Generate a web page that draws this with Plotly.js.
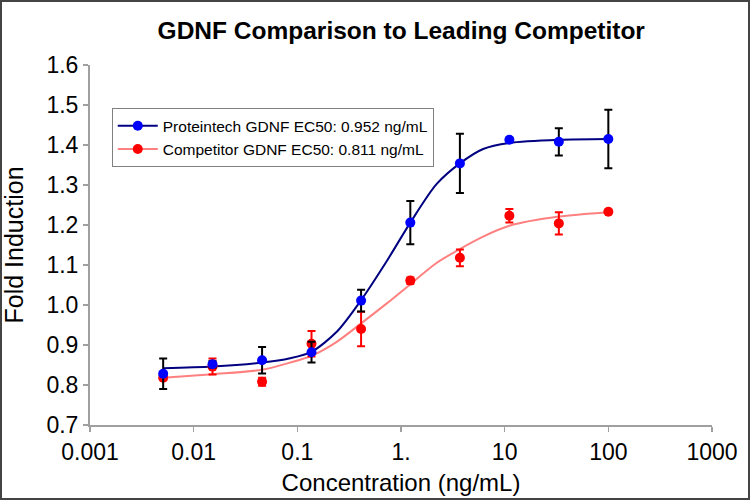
<!DOCTYPE html>
<html>
<head>
<meta charset="utf-8">
<script src="https://cdn.plot.ly/plotly-3.0.1.min.js"></script>
<style>
  html, body { margin: 0; padding: 0; background: #fff; }
  #wrap { position: relative; width: 750px; height: 500px; }
  #chart { width: 750px; height: 500px; }
  #frame { position: absolute; left: 0; top: 0; width: 750px; height: 500px; box-sizing: border-box; border: 2px solid #444; pointer-events: none; }
</style>
</head>
<body>
<div id="wrap"><div id="chart"></div><div id="frame"></div></div>
<script>
// Concentrations (ng/mL), 3-fold dilution series
const conc = [0.00508, 0.0152, 0.0457, 0.137, 0.412, 1.23, 3.70, 11.1, 33.3, 100];

// Proteintech GDNF (mean fold induction and error)
const proteintech = [0.828, 0.852, 0.862, 0.882, 1.011, 1.206, 1.354, 1.413, 1.408, 1.415];
const proteintechErr = [0.038, 0.008, 0.033, 0.026, 0.027, 0.054, 0.074, 0.003, 0.034, 0.073];

// Competitor GDNF
const competitor = [0.818, 0.846, 0.808, 0.903, 0.940, 1.061, 1.118, 1.223, 1.204, 1.233];
const competitorErr = [0.004, 0.020, 0.010, 0.032, 0.043, 0.008, 0.021, 0.017, 0.028, 0];

// Fitted curves
const curveX = [0.00508, 0.0152, 0.0457, 0.085, 0.137, 0.24, 0.412, 0.73, 1.23, 2.2, 3.7, 6.2, 11.1, 33.3, 100];
const proteintechCurve = [0.842, 0.846, 0.856, 0.867, 0.883, 0.933, 1.012, 1.110, 1.206, 1.302, 1.354, 1.390, 1.405, 1.413, 1.415];
const competitorCurve = [0.818, 0.827, 0.838, 0.856, 0.873, 0.908, 0.954, 1.004, 1.052, 1.105, 1.140, 1.171, 1.198, 1.221, 1.232];

// Labels
const xTickVals = [0.001, 0.01, 0.1, 1, 10, 100, 1000];
const xTickText = ['0.001', '0.01', '0.1', '1.', '10', '100', '1000'];
const legendNames = ['Proteintech GDNF EC50: 0.952 ng/mL', 'Competitor GDNF EC50: 0.811 ng/mL'];
const chartTitle = 'GDNF Comparison to Leading Competitor';
const xTitle = 'Concentration (ng/mL)';
const yTitle = 'Fold Induction';

const BLUE = '#0000ff', NAVY = '#000080', RED = '#ff0000', PINK = '#ff8080';
const FONT = 'Arial, "Liberation Sans", sans-serif';

const traces = [
  // legend entries
  { x: [null], y: [null], type: 'scatter', mode: 'lines+markers', name: legendNames[0],
    line: { color: NAVY, width: 2 }, marker: { color: BLUE, size: 10 }, showlegend: true },
  { x: [null], y: [null], type: 'scatter', mode: 'lines+markers', name: legendNames[1],
    line: { color: PINK, width: 2 }, marker: { color: RED, size: 10 }, showlegend: true },
  // curves
  { x: curveX, y: competitorCurve, type: 'scatter', mode: 'lines', showlegend: false,
    line: { color: PINK, width: 2, shape: 'spline', smoothing: 0.8 }, hoverinfo: 'skip' },
  { x: curveX, y: proteintechCurve, type: 'scatter', mode: 'lines', showlegend: false,
    line: { color: NAVY, width: 2, shape: 'spline', smoothing: 0.8 }, hoverinfo: 'skip' },
  // data
  { x: conc, y: competitor, type: 'scatter', mode: 'markers', showlegend: false,
    marker: { color: RED, size: 10 },
    error_y: { type: 'data', array: competitorErr, visible: true, color: RED, thickness: 2, width: 4 } },
  { x: conc, y: proteintech, type: 'scatter', mode: 'markers', showlegend: false,
    marker: { color: BLUE, size: 10 },
    error_y: { type: 'data', array: proteintechErr, visible: true, color: '#000000', thickness: 2, width: 4 } }
];

const axisCommon = {
  showgrid: false, zeroline: false, showline: true, linecolor: '#a0a0a0', linewidth: 2,
  ticks: 'outside', ticklen: 5, tickwidth: 1.5, tickcolor: '#a0a0a0',
  tickfont: { family: FONT, size: 23, color: '#000' }
};

const layout = {
  width: 750, height: 500,
  margin: { l: 90, r: 38, t: 65, b: 75 },
  paper_bgcolor: '#fff', plot_bgcolor: '#fff',
  title: { text: chartTitle, font: { family: FONT, size: 24.5, color: '#000', weight: 'bold' },
           x: 0.535, xanchor: 'center', y: 0.94, yanchor: 'middle' },
  xaxis: Object.assign({}, axisCommon, {
    type: 'log', range: [-3, 3], tickmode: 'array', tickvals: xTickVals, ticktext: xTickText,
    title: { text: xTitle, font: { family: FONT, size: 24, color: '#000' }, standoff: 11 }
  }),
  yaxis: Object.assign({}, axisCommon, {
    range: [0.7, 1.6], tick0: 0.7, dtick: 0.1, tickformat: '.1f',
    title: { text: yTitle, font: { family: FONT, size: 25, color: '#000' }, standoff: 22 }
  }),
  showlegend: true,
  legend: { x: 0.035, y: 0.88, xanchor: 'left', yanchor: 'top', bgcolor: '#fff',
            bordercolor: '#808080', borderwidth: 1, itemwidth: 40,
            font: { family: FONT, size: 15.5, color: '#000' } },
  hovermode: false
};

Plotly.newPlot('chart', traces, layout, { staticPlot: true, displayModeBar: false });
</script>
</body>
</html>
